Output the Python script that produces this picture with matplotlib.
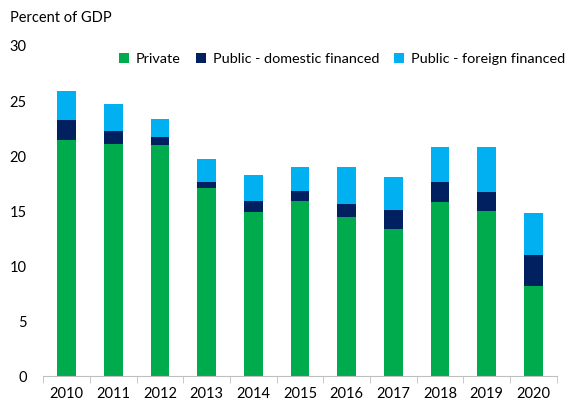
import matplotlib.pyplot as plt
import numpy as np

plt.rcParams['font.family'] = ['Lato', 'DejaVu Sans']

years = ['2010', '2011', '2012', '2013', '2014', '2015', '2016', '2017', '2018', '2019', '2020']
private = [21.5, 21.1, 21.0, 17.1, 14.9, 15.9, 14.5, 13.4, 15.8, 15.0, 8.2]
public_domestic = [1.8, 1.2, 0.7, 0.5, 1.0, 0.9, 1.1, 1.7, 1.8, 1.7, 2.8]
public_foreign = [2.6, 2.4, 1.7, 2.1, 2.4, 2.2, 3.4, 3.0, 3.2, 4.1, 3.8]

green = '#00AB4E'
navy = '#002060'
light_blue = '#00B0F0'


def plot_investment():
    x = np.arange(len(years))
    bottom2 = np.array(private) + np.array(public_domestic)

    fig = plt.figure(figsize=(5.66, 4.07), dpi=100)
    ax = fig.add_axes([0.0765, 0.076, 0.907, 0.811])

    w = 0.4
    ax.bar(x, private, w, color=green, label='Private')
    ax.bar(x, public_domestic, w, bottom=private, color=navy,
           label='Public - domestic financed')
    ax.bar(x, public_foreign, w, bottom=bottom2, color=light_blue,
           label='Public - foreign financed')

    ax.set_ylim(0, 30)
    ax.set_yticks(range(0, 31, 5))
    ax.set_xlim(-0.5, len(years) - 0.5)
    ax.set_xticks(x)
    ax.set_xticklabels(years)
    ax.tick_params(axis='x', length=0, pad=8, labelsize=10.5)
    ax.tick_params(axis='y', length=0, pad=12, labelsize=10.5)
    # category boundary ticks on the x axis
    ax.set_xticks(np.arange(-0.5, len(years)), minor=True)
    ax.tick_params(axis='x', which='minor', length=5, color='#BFBFBF')

    for s in ['top', 'right', 'left']:
        ax.spines[s].set_visible(False)
    ax.spines['bottom'].set_color('#BFBFBF')

    fig.text(0.018, 0.955, 'Percent of GDP', fontsize=10.5, va='center')
    ax.legend(loc='upper left', bbox_to_anchor=(0.148, 0.978), ncol=3, frameon=False,
              fontsize=10.4, handlelength=0.7, handleheight=0.7, borderaxespad=0,
              borderpad=0, handletextpad=0.45, columnspacing=1.05)

    plt.savefig('out.png')


if __name__ == "__main__":
    plot_investment()
